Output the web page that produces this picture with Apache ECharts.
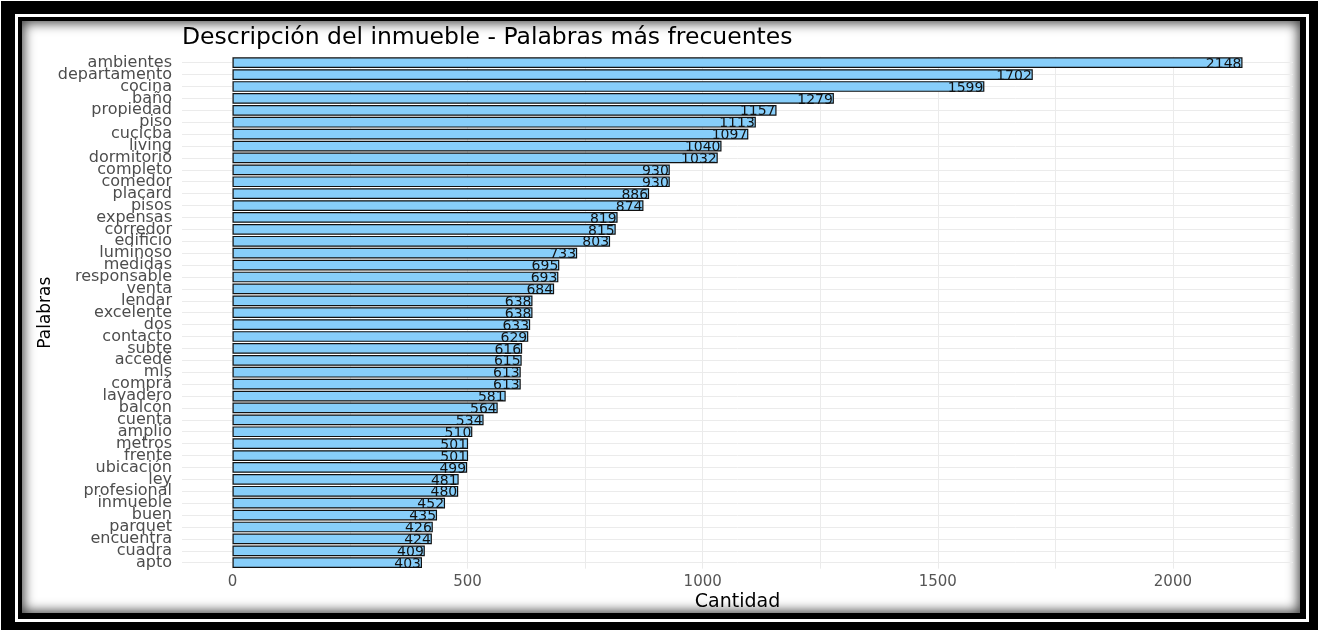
<!DOCTYPE html>
<html>
<head>
<meta charset="utf-8">
<script src="https://cdn.jsdelivr.net/npm/echarts@6/dist/echarts.min.js"></script>
<style>
  html, body { margin: 0; padding: 0; background: #fff; width: 1325px; height: 630px; overflow: hidden; }
  .box { position: absolute; }
  #chart { position: absolute; left: 0; top: 0; width: 1325px; height: 630px; }
</style>
</head>
<body>
<!-- double black frame around a white panel with an inner shadow -->
<div class="box" style="left:1px;top:1px;width:1317px;height:629px;background:#000"></div>
<div class="box" style="left:15px;top:14px;width:1294px;height:608px;background:#fff"></div>
<div class="box" style="left:18px;top:17px;width:1288px;height:602px;background:#000"></div>
<div class="box" style="left:22px;top:21px;width:1278px;height:592px;background:#fff;box-shadow:inset 0 0 12px 2px rgba(0,0,0,0.75)"></div>
<div id="chart"></div>
<script>
// Most frequent words in the property descriptions
const palabras = [
  'ambientes', 'departamento', 'cocina', 'baño', 'propiedad', 'piso', 'cucicba',
  'living', 'dormitorio', 'completo', 'comedor', 'placard', 'pisos', 'expensas',
  'corredor', 'edificio', 'luminoso', 'medidas', 'responsable', 'venta', 'lendar',
  'excelente', 'dos', 'contacto', 'subte', 'accedé', 'mls', 'comprá', 'lavadero',
  'balcón', 'cuenta', 'amplio', 'metros', 'frente', 'ubicación', 'ley',
  'profesional', 'inmueble', 'buen', 'parquet', 'encuentra', 'cuadra', 'apto'
];
const frecuencias = [
  2148, 1702, 1599, 1279, 1157, 1113, 1097,
  1040, 1032, 930, 930, 886, 874, 819,
  815, 803, 733, 695, 693, 684, 638,
  638, 633, 629, 616, 615, 613, 613, 581,
  564, 534, 510, 501, 501, 499, 481,
  480, 452, 435, 426, 424, 409, 403
];
const ticksCantidad = [0, 500, 1000, 1500, 2000];

const titulo = 'Descripción del inmueble - Palabras más frecuentes';
const ejeX = 'Cantidad';
const ejeY = 'Palabras';

// panel extents (pixels) and the 5% padding of the value range on both sides
const FONT = 'DejaVu Sans';
const panelLeft = 182, panelRight = 1293, gridTop = 56.75, gridBottom = 568.65;
const vmax = Math.max(...frecuencias);
const pad = vmax * 0.05;
const xMin = -pad, xMax = vmax + pad;
const pxPerUnit = (panelRight - panelLeft) / (xMax - xMin);
const zeroX = panelLeft + (0 - xMin) * pxPerUnit;

const chart = echarts.init(document.getElementById('chart'), null, { renderer: 'canvas' });

chart.setOption({
  animation: false,
  backgroundColor: 'transparent',
  title: {
    text: titulo,
    left: panelLeft,
    top: 26,
    padding: 0,
    textStyle: { fontFamily: FONT, fontSize: 23.5, fontWeight: 'normal', color: '#000' }
  },
  grid: [
    { left: panelLeft, right: 1325 - panelRight, top: gridTop, bottom: 630 - gridBottom, outerBoundsMode: 'none' },
    { left: zeroX, right: 1325 - panelRight, top: gridTop, bottom: 630 - gridBottom, outerBoundsMode: 'none' }
  ],
  xAxis: [
    {
      gridIndex: 0,
      type: 'value',
      min: xMin,
      max: xMax,
      name: ejeX,
      nameLocation: 'middle',
      nameGap: 24,
      nameMoveOverlap: false,
      nameTextStyle: { fontFamily: FONT, fontSize: 19, color: '#000' },
      axisLine: { show: false },
      axisTick: { show: false },
      axisLabel: { show: false },
      splitLine: { show: false }
    },
    {
      gridIndex: 1,
      type: 'value',
      min: 0,
      max: xMax,
      interval: 250,
      axisLine: { show: false },
      axisTick: { show: false },
      axisLabel: {
        show: true,
        margin: 6,
        showMaxLabel: false,
        fontFamily: FONT,
        fontSize: 15,
        color: '#555',
        formatter: v => (ticksCantidad.includes(v) ? String(v) : '')
      },
      splitLine: { show: true, showMaxLine: false, lineStyle: { color: '#EBEBEB', width: 1 } }
    }
  ],
  yAxis: [
    {
      gridIndex: 0,
      type: 'category',
      inverse: true,
      data: palabras,
      name: ejeY,
      nameLocation: 'middle',
      nameRotate: 90,
      nameGap: 128,
      nameMoveOverlap: false,
      nameTextStyle: { fontFamily: FONT, fontSize: 17, color: '#000' },
      axisLine: { show: false },
      axisTick: { show: false },
      axisLabel: {
        interval: 0,
        margin: 10,
        fontFamily: FONT,
        fontSize: 16,
        color: '#4D4D4D'
      },
      splitLine: { show: true, alignWithLabel: true, interval: 0, lineStyle: { color: '#EBEBEB', width: 1 } }
    },
    {
      gridIndex: 1,
      type: 'category',
      inverse: true,
      data: palabras,
      show: false
    }
  ],
  series: [
    {
      type: 'bar',
      xAxisIndex: 0,
      yAxisIndex: 0,
      data: frecuencias,
      barWidth: '90%',
      itemStyle: { color: '#87CEFA', borderColor: '#111', borderWidth: 1.2 },
      label: {
        show: true,
        position: 'insideRight',
        distance: 1,
        offset: [0, 1.5],
        fontFamily: FONT,
        fontSize: 14,
        color: '#111'
      },
      z: 3
    }
  ]
});
</script>
</body>
</html>
